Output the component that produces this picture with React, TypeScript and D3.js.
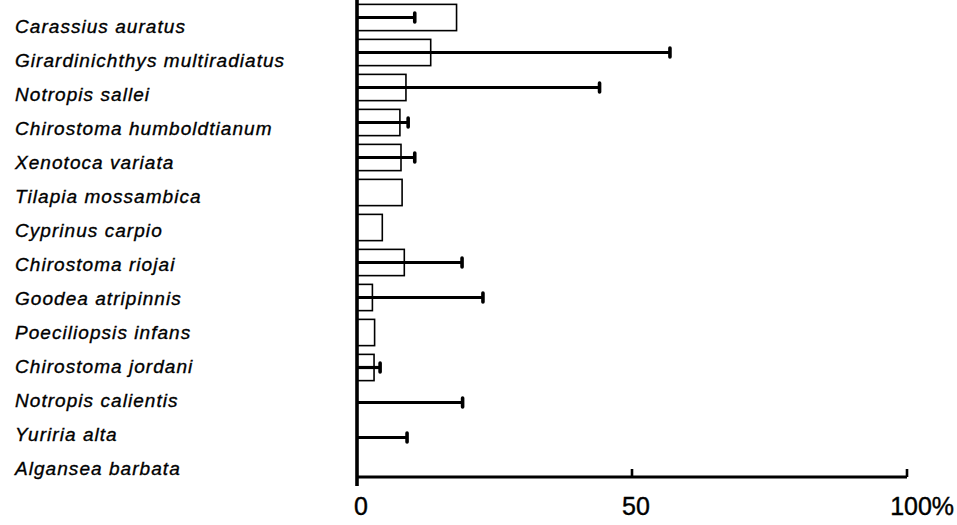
import React from "react";
import * as d3 from "d3";

// Species, in display order (top to bottom)
const species = [
  "Carassius auratus",
  "Girardinichthys multiradiatus",
  "Notropis sallei",
  "Chirostoma humboldtianum",
  "Xenotoca variata",
  "Tilapia mossambica",
  "Cyprinus carpio",
  "Chirostoma riojai",
  "Goodea atripinnis",
  "Poeciliopsis infans",
  "Chirostoma jordani",
  "Notropis calientis",
  "Yuriria alta",
  "Algansea barbata",
];

// Mean percentage (open bars); 0 = no bar drawn
const meanPct = [18.1, 13.4, 8.9, 7.8, 8.0, 8.2, 4.6, 8.6, 2.8, 3.2, 3.1, 0, 0, 0];

// Upper extent of the range line (percent); null = no line
const rangePct: (number | null)[] = [10.5, 56.9, 44.1, 9.3, 10.5, null, null, 19.1, 22.9, null, 4.2, 19.2, 9.1, null];

const tickValues = [0, 50, 100];
const tickText = ["0", "50", "100%"];

const W = 957;
const H = 525;

export default function App() {
  const x = d3.scaleLinear().domain([0, 100]).range([357, 907]);
  const y = d3
    .scaleBand<string>()
    .domain(species)
    .range([0, 490])
    .paddingInner(0.25)
    .paddingOuter(0.125);
  const labelY = d3.scalePoint<string>().domain(species).range([26, 468]);

  const axisY = 477;
  const bw = y.bandwidth();
  const font = "'Liberation Sans', Arial, Helvetica, sans-serif";
  const tickSize = 25;

  return (
    <svg
      width={W}
      height={H}
      viewBox={`0 0 ${W} ${H}`}
      style={{ position: "absolute", left: 0, top: 0, background: "#fff" }}
    >
      <rect x={0} y={0} width={W} height={H} fill="#fff" />

      {/* species names */}
      <g
        fontFamily={font}
        fontStyle="italic"
        fontSize={19}
        letterSpacing={1.05}
        fill="#000"
        stroke="#000"
        strokeWidth={0.35}
      >
        {species.map((s) => (
          <text key={s} x={15} y={labelY(s)} dy="0.35em">
            {s}
          </text>
        ))}
      </g>

      {/* open bars */}
      <g fill="#fff" stroke="#000" strokeWidth={1.6}>
        {species.map((s, i) =>
          meanPct[i] > 0 ? (
            <rect key={s} x={x(0)} y={y(s)!} width={x(meanPct[i]) - x(0)} height={bw} />
          ) : null
        )}
      </g>

      {/* range lines with end caps */}
      <g stroke="#000">
        {species.map((s, i) => {
          const v = rangePct[i];
          if (v == null) return null;
          const cy = y(s)! + bw / 2;
          return (
            <g key={s}>
              <line x1={x(0)} x2={x(v)} y1={cy} y2={cy} strokeWidth={3.2} />
              <line
                x1={x(v)}
                x2={x(v)}
                y1={cy - 4.5}
                y2={cy + 4.5}
                strokeWidth={3.6}
                strokeLinecap="round"
              />
            </g>
          );
        })}
      </g>

      {/* axes */}
      <g stroke="#000" fill="none">
        <line x1={x(0)} x2={x(0)} y1={0} y2={axisY + 9} strokeWidth={3.6} />
        <line x1={x(0)} x2={x(100)} y1={axisY} y2={axisY} strokeWidth={3} />
        {tickValues.slice(1).map((t) => (
          <line key={t} x1={x(t)} x2={x(t)} y1={axisY} y2={axisY - 8} strokeWidth={2.6} />
        ))}
      </g>

      {/* tick labels; the "%" trails the centred number */}
      <g fontFamily={font} fontSize={tickSize} fill="#000" stroke="#000" strokeWidth={0.4}>
        {tickValues.map((t, i) => {
          const txt = tickText[i];
          const num = txt.replace("%", "");
          const numW = num.length * 0.556 * tickSize;
          return (
            <text key={t} x={x(t) + 4 - numW / 2} y={515} textAnchor="start">
              {txt}
            </text>
          );
        })}
      </g>
    </svg>
  );
}
